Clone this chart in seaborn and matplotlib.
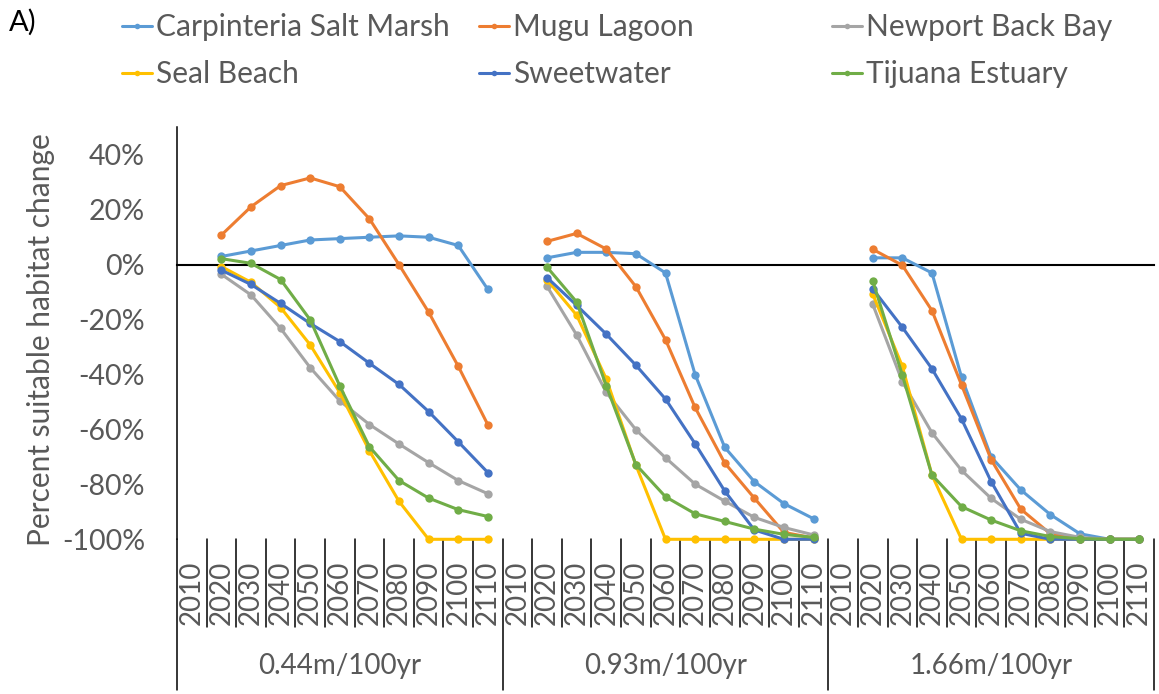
import numpy as np
import pandas as pd
import matplotlib
matplotlib.use('Agg')
import matplotlib.pyplot as plt
from matplotlib.lines import Line2D
from matplotlib.ticker import FuncFormatter
import seaborn as sns

# Дані (відсотки), по 10 значень на сценарій: 2020 ... 2110
years = [2010, 2020, 2030, 2040, 2050, 2060, 2070, 2080, 2090, 2100, 2110]
scenarios = ['0.44m/100yr', '0.93m/100yr', '1.66m/100yr']
sites = ['Carpinteria Salt Marsh', 'Mugu Lagoon', 'Newport Back Bay',
         'Seal Beach', 'Sweetwater', 'Tijuana Estuary']
colors = ['#5B9BD5', '#ED7D31', '#A5A5A5', '#FFC000', '#4472C4', '#70AD47']

carpinteria = [[3, 5, 7, 9, 9.5, 10, 10.5, 10, 7, -9],
               [2.5, 4.5, 4.5, 4, -3, -40, -66.5, -79, -87, -92.5],
               [2.5, 2.5, -3, -41, -70, -82, -91, -98, -100, -100]]
mugu = [[10.8, 21.1, 28.8, 31.6, 28.4, 16.7, 0, -17.3, -37, -58.3],
        [8.5, 11.4, 5.7, -8, -27.3, -52, -72.2, -85, -97.5, -99.5],
        [5.6, -0.2, -16.7, -43.8, -71, -89, -98, -100, -100, -100]]
newport = [[-3.5, -11, -23.2, -37.5, -49.6, -58.2, -65.3, -72.1, -78.6, -83.4],
           [-7.9, -25.6, -46.5, -60.1, -70.3, -79.9, -86.1, -92, -95.7, -98.4],
           [-14.4, -42.6, -61.2, -74.9, -85.1, -92.7, -97.2, -99.3, -100, -100]]
seal_beach = [[-0.7, -6.4, -15.6, -29.2, -46.6, -67.8, -86.2, -100, -100, -100],
              [-5.5, -18.4, -41.6, -73, -100, -100, -100, -100, -100, -100],
              [-10.7, -37, -76.6, -100, -100, -100, -100, -100, -100, -100]]
sweetwater = [[-2, -7.2, -14.1, -21.4, -28, -35.9, -43.6, -53.5, -64.5, -75.7],
              [-4.7, -14.8, -25.3, -36.6, -48.9, -65.2, -82.4, -96.6, -100, -100],
              [-8.8, -22.8, -37.9, -56.2, -79, -97.8, -100, -100, -100, -100]]
tijuana = [[2.2, 0.5, -5.4, -20.1, -44.2, -66.3, -78.6, -85, -89.2, -91.7],
           [-0.9, -13.6, -44.1, -72.8, -84.5, -90.7, -93.5, -96.3, -98.2, -99.3],
           [-5.9, -40.2, -76.6, -88.1, -93, -96.9, -99, -99.8, -100, -100]]

site_values = [carpinteria, mugu, newport, seal_beach, sweetwater, tijuana]

rows = []
n_years = len(years)
for site, vals in zip(sites, site_values):
    for g, scen in enumerate(scenarios):
        for i, v in enumerate(vals[g]):
            rows.append({'site': site, 'scenario': scen,
                         'pos': g * n_years + i + 1, 'value': v})
df = pd.DataFrame(rows)

sns.set_style('white')
plt.rcParams['font.family'] = ['Lato', 'DejaVu Sans']
grey_txt = '#595959'

fig = plt.figure(figsize=(11.59, 6.94), dpi=100)
ax = fig.add_axes([177 / 1159, 1 - 539.3 / 694, 977 / 1159, 411.9 / 694])

sns.lineplot(data=df, x='pos', y='value', hue='site', units='scenario',
             estimator=None, palette=colors, hue_order=sites, marker='o',
             markersize=6, markeredgewidth=0, linewidth=2.2, legend=False,
             clip_on=False, zorder=3, ax=ax)

n_slots = n_years * len(scenarios)
ax.set_xlim(-0.5, n_slots - 0.5)
ax.set_ylim(-100, 50)
ax.set_xlabel('')
ax.set_ylabel('')

# вісь категорій по нулю
for s in ['top', 'right']:
    ax.spines[s].set_visible(False)
ax.spines['bottom'].set_position(('data', 0))
ax.spines['bottom'].set_color('black')
ax.spines['bottom'].set_linewidth(1.5)
ax.spines['left'].set_color('black')
ax.spines['left'].set_linewidth(1.1)
bounds = np.arange(n_slots + 1) - 0.5
ax.set_xticks(bounds[1:])
ax.set_xticklabels([])
ax.tick_params(axis='x', direction='in', length=7.5, width=1.2, color='black')

ax.set_yticks(np.arange(-100, 41, 20))
ax.yaxis.set_major_formatter(FuncFormatter(lambda v, p: f'{v:.0f}%'))
ax.tick_params(axis='y', length=0, pad=23, labelsize=20.5, labelcolor=grey_txt)

# підписи років і сценаріїв під графіком
trans = ax.get_xaxis_transform()
for g, scen in enumerate(scenarios):
    for i, yr in enumerate(years):
        ax.text(g * n_years + i, -0.208, str(yr), rotation=90, ha='center',
                va='bottom', fontsize=20, color=grey_txt, transform=trans)
    ax.text(g * n_years + (n_years - 1) / 2, -0.3076, scen, ha='center',
            va='center', fontsize=20, color=grey_txt, transform=trans)
for b in bounds:
    long_line = (b + 0.5) % n_years == 0
    ax.plot([b, b], [0, -0.366 if long_line else -0.213], color='black',
            lw=1.1, transform=trans, clip_on=False)

fig.text(41 / 1159, 1 - 340 / 694, 'Percent suitable habitat change',
         rotation=90, ha='center', va='center', fontsize=21.5, color=grey_txt)
fig.text(9 / 1159, 1 - 22 / 694, 'A)', ha='left', va='center', fontsize=21,
         color='black')

# легенда: три колонки по два записи
handles = [Line2D([0], [0], color=c, lw=2.2, marker='o', markersize=4,
                  markeredgewidth=0) for c in colors]
col_x = [122, 479, 832]
for k in range(3):
    idx = [k, k + 3]
    fig.legend([handles[j] for j in idx], [sites[j] for j in idx],
               loc='upper left', bbox_to_anchor=(col_x[k] / 1159, 1 - 13 / 694),
               frameon=False, fontsize=21.5, handlelength=1.0, handletextpad=0.15,
               borderpad=0, borderaxespad=0, labelspacing=0.65,
               labelcolor=grey_txt)

fig.savefig('out.png', dpi=100)
